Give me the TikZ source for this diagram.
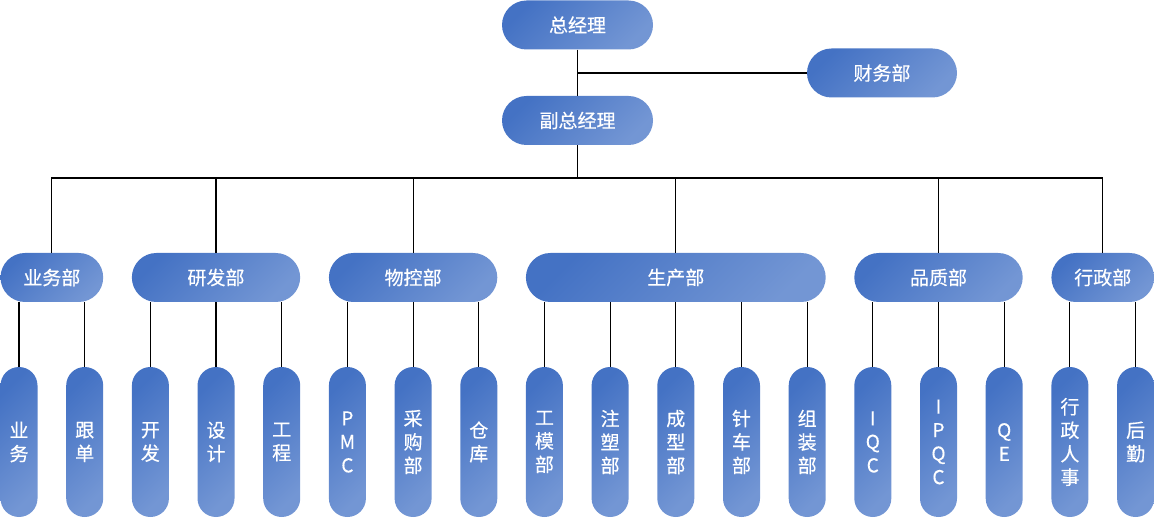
\documentclass[tikz,border=0pt]{standalone}
\usepackage{fontspec}
\setmainfont{Noto Sans CJK SC}
\newfontfamily\boxfont[FakeBold=0.4]{Noto Sans CJK SC}
\definecolor{boxdark}{HTML}{4472C4}
\definecolor{boxlight}{HTML}{7396D4}

\begin{document}
\begin{tikzpicture}[x=1pt,y=-1pt]
    \tikzset{BoxStyle/.style = {%
        shape= rectangle,
        top color= boxdark,
        bottom color= boxlight,
        shading angle= 45,
        text= white,
        inner sep= 0pt,
        font= \boxfont\fontsize{19pt}{23.5pt}\selectfont},
      WideBox/.style = {BoxStyle,
        minimum height= 49pt,
        rounded corners= 24.5pt},
      TallBox/.style = {BoxStyle,
        minimum width= 37pt,
        minimum height= 150pt,
        rounded corners= 18.5pt,
        align= center},
      LinkStyle/.style = {line width= 1.1pt}}
    \useasboundingbox (0,0) rectangle (1154,518);
    % top
    \node[WideBox, minimum width=151pt] (zjl) at (577.5,25) {总经理};
    \node[WideBox, minimum width=150pt] (cwb) at (882,73) {财务部};
    \node[WideBox, minimum width=151pt] (fzjl) at (577.5,120.5) {副总经理};
    \coordinate (bus) at (577.5,178);
    % departments
    \node[WideBox, minimum width=102.7pt] (ywb) at (51.85,277.5) {业务部};
    \node[WideBox, minimum width=168.3pt] (yfb) at (216,277.5) {研发部};
    \node[WideBox, minimum width=168.4pt] (wkb) at (413.1,277.5) {物控部};
    \node[WideBox, minimum width=299.8pt] (scb) at (675.8,277.5) {生产部};
    \node[WideBox, minimum width=168.4pt] (pzb) at (938.5,277.5) {品质部};
    \node[WideBox, minimum width=102.7pt] (xzb) at (1102.75,277.5) {行政部};
    % sections
    \node[TallBox] (yw1) at (19,442) {业\\务};
    \node[TallBox] (yw2) at (84.7,442) {跟\\单};
    \node[TallBox] (yf1) at (150.4,442) {开\\发};
    \node[TallBox] (yf2) at (216,442) {设\\计};
    \node[TallBox] (yf3) at (281.7,442) {工\\程};
    \node[TallBox] (wk1) at (347.4,442) {P\\M\\C};
    \node[TallBox] (wk2) at (413.1,442) {采\\购\\部};
    \node[TallBox] (wk3) at (478.8,442) {仓\\库};
    \node[TallBox] (sc1) at (544.4,442) {工\\模\\部};
    \node[TallBox] (sc2) at (610.1,442) {注\\塑\\部};
    \node[TallBox] (sc3) at (675.8,442) {成\\型\\部};
    \node[TallBox] (sc4) at (741.5,442) {针\\车\\部};
    \node[TallBox] (sc5) at (807.2,442) {组\\装\\部};
    \node[TallBox] (pz1) at (872.8,442) {I\\Q\\C};
    \node[TallBox] (pz2) at (938.5,442) {I\\P\\Q\\C};
    \node[TallBox] (pz3) at (1004.2,442) {Q\\E};
    \node[TallBox] (xz1) at (1069.9,442) {行\\政\\人\\事};
    \node[TallBox] (xz2) at (1135.6,442) {后\\勤};
    % links
    \draw[LinkStyle] (zjl) -- (fzjl);
    \draw[LinkStyle] (cwb) -- (cwb -| zjl);
    \draw[LinkStyle] (fzjl) -- (bus);
    \draw[LinkStyle] (ywb) |- (bus) -| (xzb);
    \draw[LinkStyle] (yfb) -- (yfb |- bus);
    \draw[LinkStyle] (wkb) -- (wkb |- bus);
    \draw[LinkStyle] (scb) -- (scb |- bus);
    \draw[LinkStyle] (pzb) -- (pzb |- bus);
    \draw[LinkStyle] (yw1) -- (yw1 |- ywb.south);
    \draw[LinkStyle] (yw2) -- (yw2 |- ywb.south);
    \draw[LinkStyle] (yf1) -- (yf1 |- yfb.south);
    \draw[LinkStyle] (yf2) -- (yf2 |- yfb.south);
    \draw[LinkStyle] (yf3) -- (yf3 |- yfb.south);
    \draw[LinkStyle] (wk1) -- (wk1 |- wkb.south);
    \draw[LinkStyle] (wk2) -- (wk2 |- wkb.south);
    \draw[LinkStyle] (wk3) -- (wk3 |- wkb.south);
    \draw[LinkStyle] (sc1) -- (sc1 |- scb.south);
    \draw[LinkStyle] (sc2) -- (sc2 |- scb.south);
    \draw[LinkStyle] (sc3) -- (sc3 |- scb.south);
    \draw[LinkStyle] (sc4) -- (sc4 |- scb.south);
    \draw[LinkStyle] (sc5) -- (sc5 |- scb.south);
    \draw[LinkStyle] (pz1) -- (pz1 |- pzb.south);
    \draw[LinkStyle] (pz2) -- (pz2 |- pzb.south);
    \draw[LinkStyle] (pz3) -- (pz3 |- pzb.south);
    \draw[LinkStyle] (xz1) -- (xz1 |- xzb.south);
    \draw[LinkStyle] (xz2) -- (xz2 |- xzb.south);
\end{tikzpicture}
\end{document}
